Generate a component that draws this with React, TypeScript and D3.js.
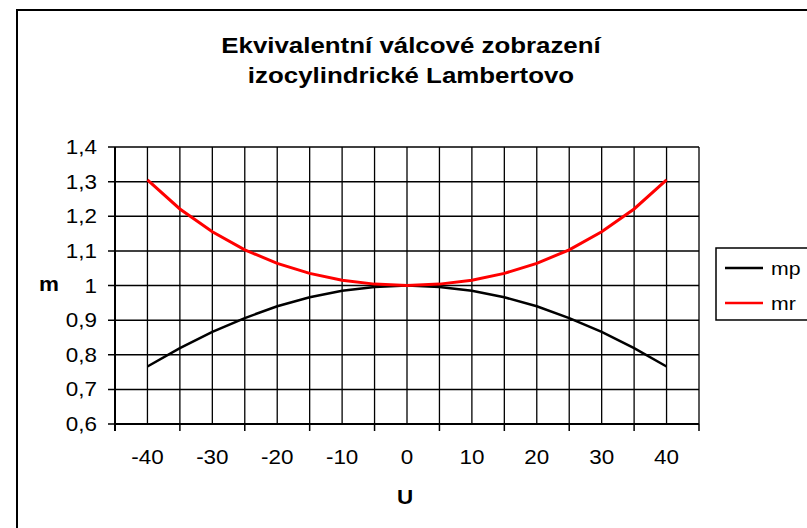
import React from "react";
import * as d3 from "d3";

const uValues = [-40, -35, -30, -25, -20, -15, -10, -5, 0, 5, 10, 15, 20, 25, 30, 35, 40];
const mpValues = [0.766, 0.819, 0.866, 0.906, 0.94, 0.966, 0.985, 0.996, 1.0, 0.996, 0.985, 0.966, 0.94, 0.906, 0.866, 0.819, 0.766];
const mrValues = [1.305, 1.221, 1.155, 1.103, 1.064, 1.035, 1.015, 1.004, 1.0, 1.004, 1.015, 1.035, 1.064, 1.103, 1.155, 1.221, 1.305];
const xLabels = [-40, -30, -20, -10, 0, 10, 20, 30, 40];
const yTicks = [0.6, 0.7, 0.8, 0.9, 1.0, 1.1, 1.2, 1.3, 1.4];
const titleLines = ["Ekvivalentní válcové zobrazení", "izocylindrické Lambertovo"];
const seriesNames = ["mp", "mr"];
const seriesColors = ["#000000", "#ff0000"];

const W = 807;
const H = 528;
const font = "'Liberation Sans', Arial, sans-serif";
const SX = 1.15; // the picture is a little wider than tall

function SText(props: {
  x: number;
  y: number;
  size: number;
  anchor?: string;
  bold?: boolean;
  children: React.ReactNode;
}) {
  return (
    <text
      transform={`translate(${props.x},${props.y}) scale(${SX},1)`}
      textAnchor={props.anchor || "start"}
      fontFamily={font}
      fontSize={props.size}
      fontWeight={props.bold ? "bold" : "normal"}
      fill="#000"
    >
      {props.children}
    </text>
  );
}

export default function App() {
  const left = 115, right = 699, top = 147, bottom = 424;
  const x = d3.scaleLinear().domain([-45, 45]).range([left, right]);
  const y = d3.scaleLinear().domain([0.6, 1.4]).range([bottom, top]);

  const vGrid = d3.range(-45, 46, 5);
  const tickMarks = d3.range(-45, 46, 10);

  const line = d3
    .line<number>()
    .x((d, i) => x(uValues[i]))
    .y((d) => y(d));

  const fmt = (v: number) => (Math.abs(v - 1) < 1e-9 ? "1" : v.toFixed(1).replace(".", ","));

  return (
    <svg width={W} height={H} style={{ position: "absolute", left: 0, top: 0 }}>
      <rect x={0} y={0} width={W} height={H} fill="#fff" />
      <rect x={17} y={10} width={W + 20} height={H + 20} fill="#fff" stroke="#000" strokeWidth={2} />

      {titleLines.map((t, i) => (
        <SText key={t} x={411} y={53 + i * 30} size={22.5} anchor="middle" bold>
          {t}
        </SText>
      ))}

      {/* grid */}
      {vGrid.map((v) => (
        <line key={"v" + v} x1={x(v)} x2={x(v)} y1={top} y2={bottom} stroke="#000" strokeWidth={1.3} />
      ))}
      {yTicks.map((v) => (
        <line key={"h" + v} x1={left - 7} x2={right} y1={y(v)} y2={y(v)} stroke="#000" strokeWidth={1.5} />
      ))}
      <line x1={left} x2={left} y1={top} y2={bottom + 7} stroke="#000" strokeWidth={2} />
      <line x1={left} x2={right} y1={bottom} y2={bottom} stroke="#000" strokeWidth={2} />
      {tickMarks.map((v) => (
        <line key={"t" + v} x1={x(v)} x2={x(v)} y1={bottom} y2={bottom + 7} stroke="#000" strokeWidth={1.5} />
      ))}

      {/* axis labels */}
      {yTicks.map((v) => (
        <SText key={"yl" + v} x={97} y={y(v) + 7} size={19.5} anchor="end">
          {fmt(v)}
        </SText>
      ))}
      {xLabels.map((v) => (
        <SText key={"xl" + v} x={x(v)} y={464} size={19.5} anchor="middle">
          {v}
        </SText>
      ))}
      <SText x={49} y={291} size={19.5} anchor="middle" bold>
        m
      </SText>
      <SText x={405} y={504} size={19.5} anchor="middle" bold>
        U
      </SText>

      {/* series */}
      <path d={line(mpValues) || ""} fill="none" stroke={seriesColors[0]} strokeWidth={2.5} />
      <path d={line(mrValues) || ""} fill="none" stroke={seriesColors[1]} strokeWidth={3} />

      {/* legend */}
      <rect x={716} y={248} width={100} height={72} fill="#fff" stroke="#000" strokeWidth={1.5} />
      {seriesNames.map((n, i) => (
        <g key={n}>
          <line x1={725} x2={763} y1={268 + i * 35} y2={268 + i * 35} stroke={seriesColors[i]} strokeWidth={2.5} />
          <SText x={771} y={275 + i * 35} size={18.5}>
            {n}
          </SText>
        </g>
      ))}
    </svg>
  );
}
